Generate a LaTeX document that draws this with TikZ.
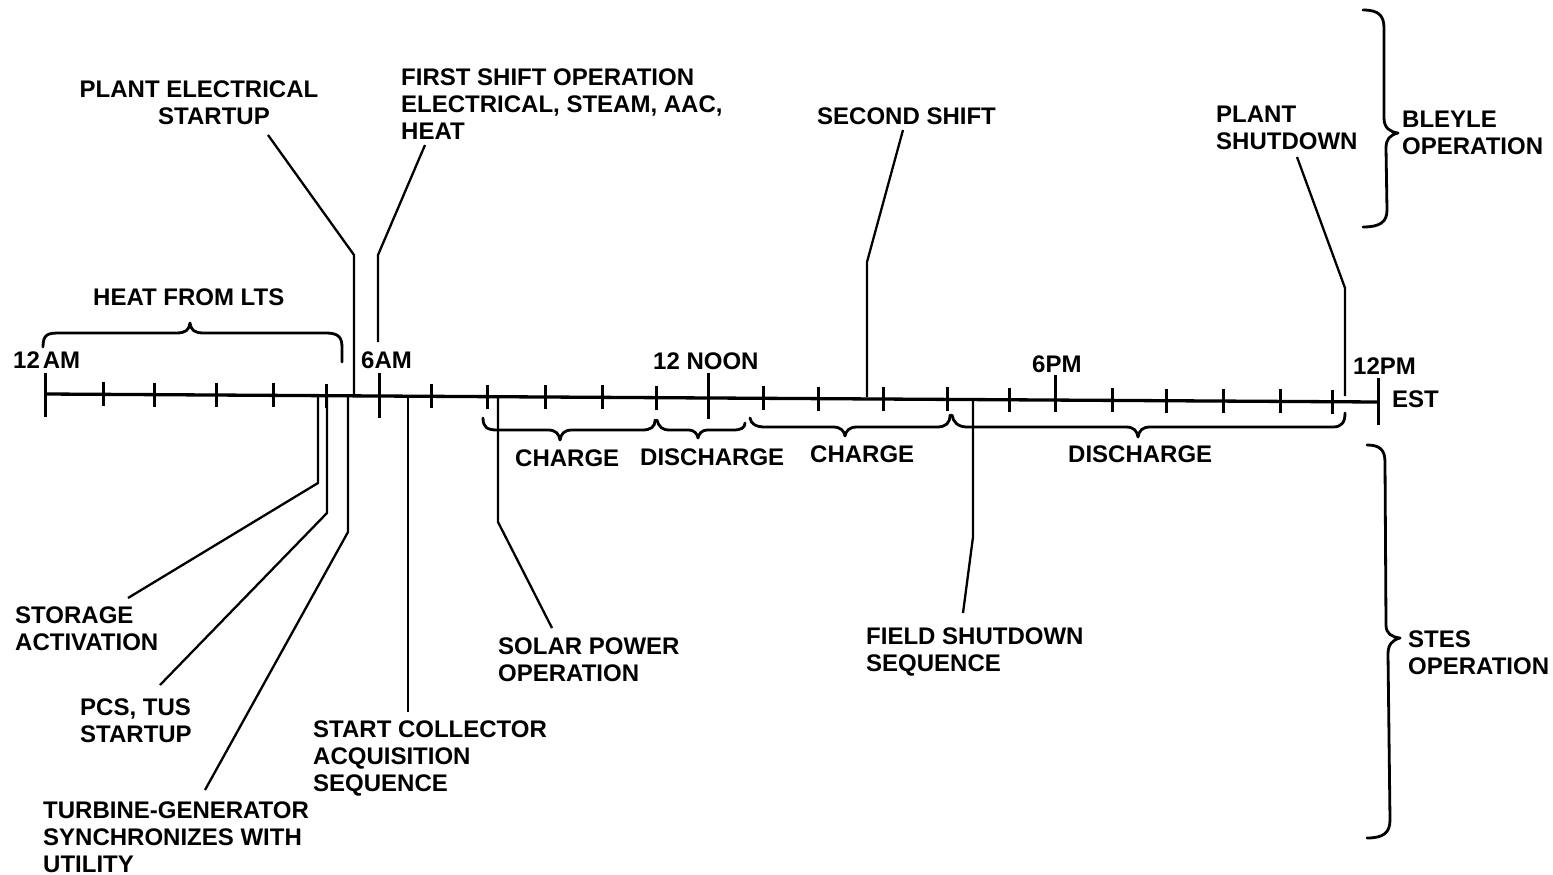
\documentclass[tikz,border=0pt]{standalone}
\usepackage{fontspec}
\setmainfont{Liberation Sans}
\begin{document}
\begin{tikzpicture}[x=1pt,y=-1pt,
  lbl/.style={font=\fontsize{24}{27}\selectfont\bfseries, inner sep=0pt, anchor=north west, align=left},
  axisline/.style={line width=3.3pt},
  tickmark/.style={line width=3pt},
  leader/.style={line width=2.3pt, line join=round},
  brc/.style={line width=2.8pt, line cap=round, line join=round}]
\useasboundingbox (0,0) rectangle (1553,875);

% ---------------- time axis ----------------
\coordinate (ax0) at (45,394);
\coordinate (ax1) at (1378,402);
\draw[axisline] (ax0) -- (ax1);

\foreach \x in {103,154,216,273,326,431,487,545,602,656,763,818,883,947,1009,1112,1166,1223,1280,1332}{
  \pgfmathsetmacro\yy{394+8*(\x-45)/1333}
  \draw[tickmark] (\x,{\yy-12}) -- (\x,{\yy+12});
}
\draw[tickmark] (45,373) -- (45,417);
\draw[tickmark] (379,373) -- (379,418);
\draw[tickmark] (708,373) -- (708,419);
\draw[tickmark] (1055,375) -- (1055,412);
\draw[tickmark] (1378,378) -- (1378,425);

% axis labels
\node[lbl] (t0)  at (13,352)   {12\hspace{3pt}AM};
\node[lbl] (t6)  at (361,352)  {6AM};
\node[lbl] (t12) at (653,353)  {12 NOON};
\node[lbl] (t18) at (1032,356) {6PM};
\node[lbl] (t24) at (1353,358) {12PM};
\node[lbl] (est) at (1392,391) {EST};

% ---------------- braces ----------------
\draw[brc] (43,347) .. controls (43,334) and (48,333) .. (60,333) -- (176,333)
  .. controls (186,333) and (189,330) .. (190,323)
  .. controls (191,330) and (194,333) .. (204,333) -- (326,333)
  .. controls (338,333) and (342,337) .. (342,347) -- (342,362);
\node[lbl] (lts) at (93,289) {HEAT FROM LTS};

\draw[brc] (483,418) .. controls (483,427) and (487,430) .. (497,430) -- (548,430)
  .. controls (556,430) and (559,434) .. (560,440)
  .. controls (561,434) and (564,430) .. (572,430) -- (642,430)
  .. controls (651,430) and (655,427) .. (655,420);
\draw[brc] (657,420) .. controls (659,427) and (662,430) .. (670,430) -- (688,430)
  .. controls (695,430) and (697,434) .. (698,438)
  .. controls (699,434) and (701,430) .. (708,430) -- (733,430)
  .. controls (741,430) and (745,428) .. (745,423);
\draw[brc] (750,418) .. controls (751,424) and (756,427) .. (765,427) -- (833,427)
  .. controls (841,427) and (844,431) .. (845,436)
  .. controls (846,431) and (849,427) .. (857,427) -- (937,427)
  .. controls (946,427) and (950,423) .. (950,415);
\draw[brc] (952,415) .. controls (953,422) and (958,427) .. (967,427) -- (1126,427)
  .. controls (1134,427) and (1137,431) .. (1138,437)
  .. controls (1139,431) and (1142,427) .. (1150,427) -- (1333,427)
  .. controls (1342,427) and (1345,422) .. (1345,413);
\node[lbl] (ch1) at (515,450)  {CHARGE};
\node[lbl] (dc1) at (640,449)  {DISCHARGE};
\node[lbl] (ch2) at (810,446)  {CHARGE};
\node[lbl] (dc2) at (1068,446) {DISCHARGE};

\draw[brc] (1363,10) .. controls (1378,10) and (1384,15) .. (1384,28) -- (1384,118)
  .. controls (1384,128) and (1390,132) .. (1398,133)
  .. controls (1390,135) and (1386,139) .. (1386,148) -- (1387,210)
  .. controls (1387,222) and (1380,227) .. (1363,227);
\node[lbl] (bley) at (1402,111) {BLEYLE\\OPERATION};

\draw[brc] (1367,445) .. controls (1380,445) and (1385,450) .. (1385,462) -- (1386,625)
  .. controls (1386,634) and (1392,637) .. (1400,638)
  .. controls (1392,640) and (1388,645) .. (1388,654) -- (1390,820)
  .. controls (1390,833) and (1383,838) .. (1367,838);
\node[lbl] (stes) at (1408,631) {STES\\OPERATION};

% ---------------- event labels ----------------
\node[lbl, anchor=north, align=center] (pes) at (199,81) {PLANT ELECTRICAL\\\hspace*{30pt}STARTUP};
\node[lbl] (fso) at (401,69)  {FIRST SHIFT OPERATION\\ELECTRICAL, STEAM, AAC,\\HEAT};
\node[lbl] (ss)  at (817,108) {SECOND SHIFT};
\node[lbl] (psd) at (1216,106) {PLANT\\SHUTDOWN};
\node[lbl] (sa)  at (15,607)  {STORAGE\\ACTIVATION};
\node[lbl] (pcs) at (80,699)  {PCS, TUS\\STARTUP};
\node[lbl] (tg)  at (43,802)  {TURBINE-GENERATOR\\SYNCHRONIZES WITH\\UTILITY};
\node[lbl] (sca) at (313,721) {START COLLECTOR\\ACQUISITION\\SEQUENCE};
\node[lbl] (spo) at (498,638) {SOLAR POWER\\OPERATION};
\node[lbl] (fsd) at (866,628) {FIELD SHUTDOWN\\SEQUENCE};

% ---------------- leader lines ----------------
\coordinate (pesA) at (354,396);  \coordinate (pesB) at (354,255);  \coordinate (pesC) at (268,135);
\coordinate (fsoA) at (378,342);  \coordinate (fsoB) at (378,255);  \coordinate (fsoC) at (425,145);
\coordinate (ssA)  at (867,397);  \coordinate (ssB)  at (867,262);  \coordinate (ssC)  at (903,130);
\coordinate (psdA) at (1345,396); \coordinate (psdB) at (1345,288); \coordinate (psdC) at (1297,157);
\coordinate (saA)  at (318,396);  \coordinate (saB)  at (318,483);  \coordinate (saC)  at (128,598);
\coordinate (pcsA) at (327,396);  \coordinate (pcsB) at (327,513);  \coordinate (pcsC) at (160,685);
\coordinate (tgA)  at (348,396);  \coordinate (tgB)  at (348,532);  \coordinate (tgC)  at (205,790);
\coordinate (scaA) at (408,396);  \coordinate (scaB) at (408,712);
\coordinate (spoA) at (498,398);  \coordinate (spoB) at (498,522);  \coordinate (spoC) at (552,628);
\coordinate (fsdA) at (973,400);  \coordinate (fsdB) at (973,537);  \coordinate (fsdC) at (963,613);

\draw[leader] (pesA) -- (pesB) -- (pesC);
\draw[leader] (fsoA) -- (fsoB) -- (fsoC);
\draw[leader] (ssA) -- (ssB) -- (ssC);
\draw[leader] (psdA) -- (psdB) -- (psdC);
\draw[leader] (saA) -- (saB) -- (saC);
\draw[leader] (pcsA) -- (pcsB) -- (pcsC);
\draw[leader] (tgA) -- (tgB) -- (tgC);
\draw[leader] (scaA) -- (scaB);
\draw[leader] (spoA) -- (spoB) -- (spoC);
\draw[leader] (fsdA) -- (fsdB) -- (fsdC);
\end{tikzpicture}
\end{document}
